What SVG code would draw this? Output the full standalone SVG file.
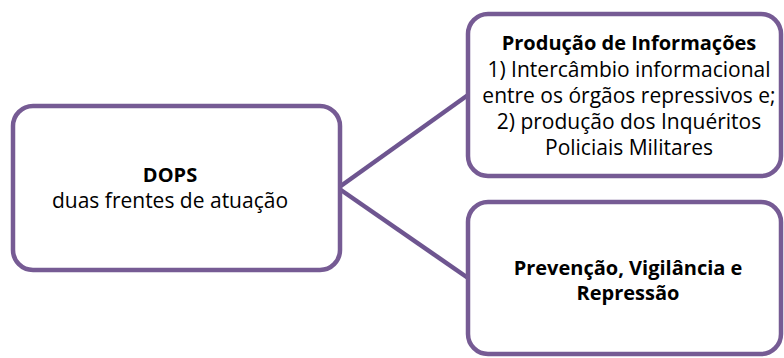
<svg xmlns="http://www.w3.org/2000/svg" width="784" height="358" viewBox="0 0 784 358">
<style>
.box{fill:#fff;stroke:#765b94;stroke-width:4.5}
.ln{stroke:#6e5590;stroke-width:4.5;fill:none}
text{font-family:"Open Sans","Liberation Sans",sans-serif;font-size:21px;fill:#000;text-anchor:middle}
.b{font-weight:bold;font-size:20px}
</style>
<rect width="784" height="358" fill="#fff"/>
<g id="connectors">
<line class="ln" x1="338" y1="188" x2="468" y2="95"/>
<line class="ln" x1="338" y1="188" x2="468" y2="278"/>
</g>
<g id="dops">
<rect class="box" x="13" y="106" width="327" height="164" rx="20"/>
<text class="b" x="170" y="182">DOPS</text>
<text x="170" y="208">duas frentes de atuação</text>
</g>
<g id="producao">
<rect class="box" x="468" y="14" width="313" height="162" rx="20"/>
<text class="b" x="629" y="50">Produção de Informações</text>
<text x="629" y="77">1) Intercâmbio informacional</text>
<text x="629" y="103">entre os órgãos repressivos e;</text>
<text x="629" y="129">2) produção dos Inquéritos</text>
<text x="629" y="155">Policiais Militares</text>
</g>
<g id="prevencao">
<rect class="box" x="468" y="202" width="313" height="152" rx="20"/>
<text class="b" x="628" y="275">Prevenção, Vigilância e</text>
<text class="b" x="628" y="300">Repressão</text>
</g>
</svg>
